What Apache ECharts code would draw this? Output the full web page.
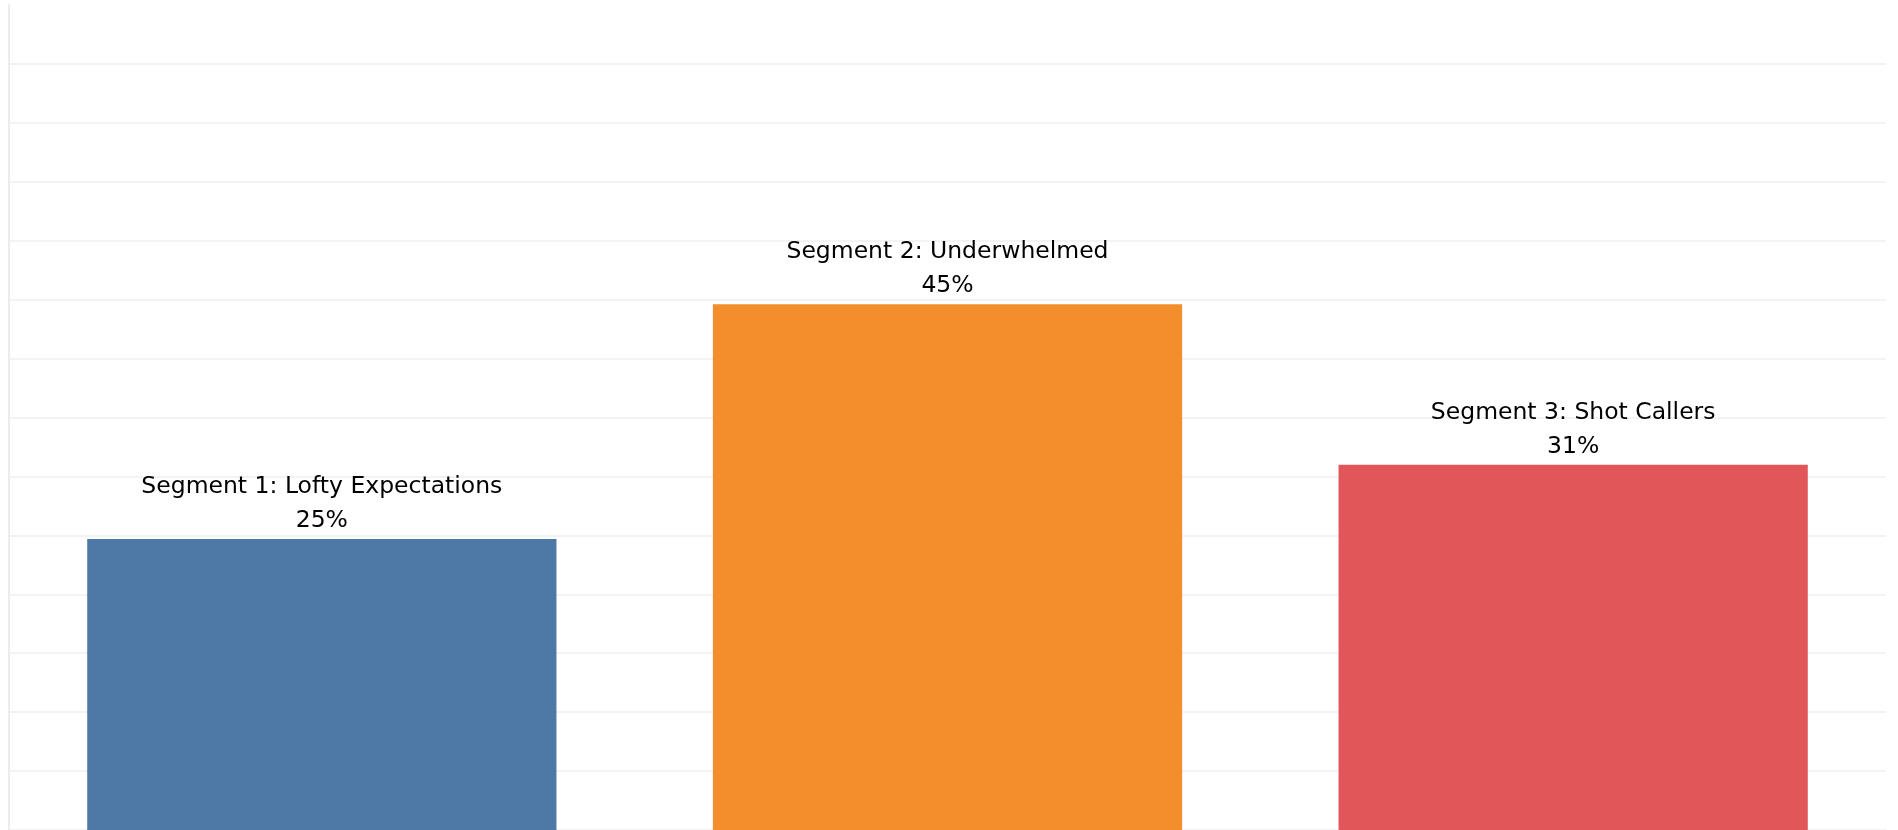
<!DOCTYPE html>
<html>
<head>
<meta charset="utf-8">
<style>html,body{margin:0;padding:0;background:#fff;}#c{width:1898px;height:830px;}</style>
<script src="https://cdn.jsdelivr.net/npm/echarts@6/dist/echarts.min.js"></script>
</head>
<body>
<div id="c"></div>
<script>
var categories = ["Segment 1: Lofty Expectations", "Segment 2: Underwhelmed", "Segment 3: Shot Callers"];
var shares = [24.7, 44.6, 31.0];
var colors = ["#4e79a7", "#f28e2b", "#e15759"];

var chart = echarts.init(document.getElementById('c'));
chart.setOption({
  animation: false,
  grid: {left: 9, right: 12, top: 5, bottom: -1, containLabel: false},
  xAxis: {
    type: 'category', data: categories,
    axisLine: {show: false}, axisTick: {show: false}, axisLabel: {show: false}
  },
  yAxis: {
    type: 'value', min: 0, max: 70, interval: 5,
    axisLabel: {show: false}, axisTick: {show: false},
    axisLine: {show: true, lineStyle: {color: '#ececec', width: 2}},
    splitLine: {show: true, showMaxLine: false, lineStyle: {color: '#efefef', width: 1.5}}
  },
  series: [{
    type: 'bar', barWidth: '75%',
    data: shares.map(function (v, i) { return {value: v, itemStyle: {color: colors[i]}}; }),
    label: {
      show: true, position: 'top', distance: 1,
      fontFamily: 'DejaVu Sans', fontSize: 23.5, color: '#000', lineHeight: 34,
      formatter: function (p) { return p.name + '\n' + Math.round(p.value) + '%'; }
    }
  }]
});
</script>
</body>
</html>
